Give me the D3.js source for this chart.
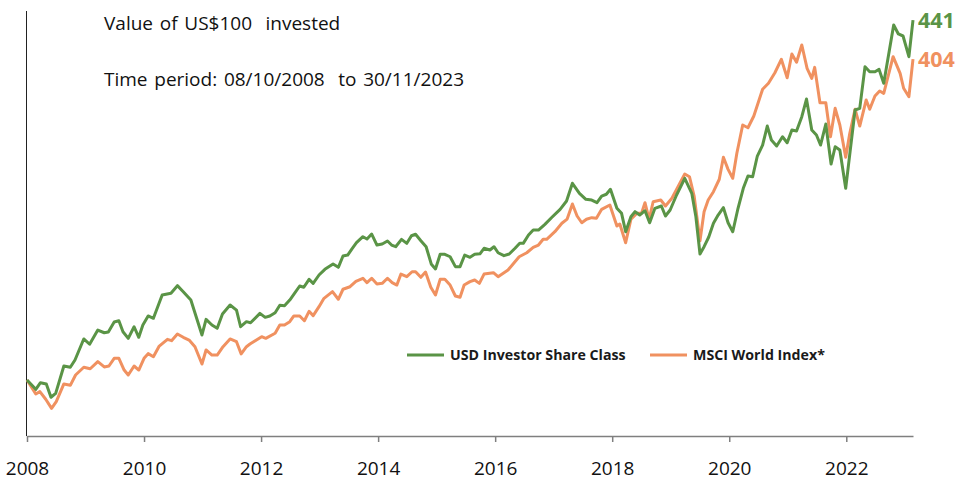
<!DOCTYPE html>
<html>
<head>
<meta charset="utf-8">
<script src="https://cdn.jsdelivr.net/npm/d3@7"></script>
<style>
  html, body { margin: 0; padding: 0; background: #fff; }
  svg { display: block; font-family: "Open Sans", "Noto Sans", sans-serif; }
</style>
</head>
<body>
<svg id="chart" width="967" height="480"></svg>
<script>
// ---- Data ----
const titleLines = ["Value of US$100  invested", "Time period: 08/10/2008  to 30/11/2023"];
const seriesNames = ["USD Investor Share Class", "MSCI World Index*"];
const tickYears = [2008, 2010, 2012, 2014, 2016, 2018, 2020, 2022];
const endLabels = ["441", "404"];

const fundDates = [2008.00,2008.15,2008.23,2008.33,2008.41,2008.49,2008.63,2008.74,2008.82,2008.97,2009.07,2009.21,2009.32,2009.39,2009.49,2009.57,2009.64,2009.73,2009.83,2009.91,2009.98,2010.07,2010.16,2010.31,2010.46,2010.57,2010.67,2010.80,2010.99,2011.06,2011.16,2011.25,2011.34,2011.47,2011.58,2011.65,2011.75,2011.82,2011.98,2012.07,2012.15,2012.24,2012.32,2012.40,2012.49,2012.58,2012.66,2012.73,2012.82,2012.89,2012.99,2013.09,2013.23,2013.32,2013.40,2013.48,2013.55,2013.63,2013.74,2013.81,2013.89,2013.98,2014.07,2014.16,2014.23,2014.30,2014.40,2014.49,2014.57,2014.64,2014.73,2014.82,2014.91,2014.98,2015.06,2015.14,2015.23,2015.32,2015.40,2015.48,2015.57,2015.65,2015.74,2015.81,2015.91,2015.98,2016.05,2016.15,2016.24,2016.34,2016.42,2016.48,2016.57,2016.65,2016.74,2016.85,2016.97,2017.11,2017.22,2017.32,2017.44,2017.55,2017.65,2017.74,2017.82,2017.90,2017.97,2018.08,2018.16,2018.23,2018.32,2018.39,2018.47,2018.56,2018.64,2018.73,2018.84,2018.91,2018.99,2019.10,2019.24,2019.36,2019.43,2019.50,2019.57,2019.65,2019.73,2019.81,2019.90,2019.98,2020.06,2020.15,2020.24,2020.32,2020.40,2020.48,2020.57,2020.65,2020.72,2020.81,2020.91,2020.99,2021.07,2021.15,2021.24,2021.32,2021.41,2021.49,2021.56,2021.65,2021.74,2021.81,2021.89,2021.99,2022.15,2022.23,2022.32,2022.40,2022.49,2022.56,2022.64,2022.81,2022.89,2022.97,2023.07,2023.14];
const fundValues = [100,91.2,97.5,96.3,83.7,87.4,113.3,112.1,119.0,138.9,133.9,147.4,144.8,145.5,155.0,156.2,145.8,139.5,150.5,140.5,152.1,160.7,158.5,180.6,182.2,189.4,183.7,175.8,142.7,157.5,152.1,149.0,162.6,171.1,166.3,150.5,155.3,154.3,163.2,159.4,160.7,163.8,170.8,170.4,175.8,182.7,189.1,187.9,195.4,191.6,199.5,204.9,209.9,206.8,217.5,218.4,224.1,230.1,235.8,233.6,238.3,227.9,228.9,231.7,227.9,226.3,233.3,229.5,236.7,238.1,232.0,226.3,209.6,205.2,219.1,219.1,216.8,207.4,207.4,218.4,216.3,219.1,219.6,224.8,223.2,226.3,220.6,217.8,219.4,224.8,229.5,229.5,237.4,242.1,242.1,247.5,254.2,261.7,269.6,286.4,276.9,271.2,270.5,268.0,274.3,276.0,280.7,262.7,257.9,240.5,254.7,259.5,256.3,260.4,249.0,262.7,264.9,255.4,261.1,275.3,291.1,276.9,254.7,219.4,226.3,235.5,248.5,256.3,263.3,249.0,240.5,262.7,281.6,293.3,292.6,312.2,322.6,340.6,327.4,321.7,330.5,324.8,336.9,335.9,349.5,366.2,336.9,332.1,322.6,342.5,304.6,321.0,317.9,281.6,355.8,357.4,396.8,392.1,392.1,394.3,381.1,436.3,427.8,425.9,406.3,441];

const indexDates = [2008.00,2008.15,2008.22,2008.32,2008.42,2008.50,2008.63,2008.74,2008.83,2008.97,2009.08,2009.21,2009.32,2009.40,2009.49,2009.57,2009.66,2009.73,2009.83,2009.91,2010.00,2010.07,2010.16,2010.26,2010.40,2010.47,2010.57,2010.67,2010.77,2010.87,2010.99,2011.06,2011.16,2011.25,2011.35,2011.47,2011.58,2011.66,2011.75,2011.81,2012.01,2012.08,2012.24,2012.32,2012.40,2012.49,2012.56,2012.66,2012.74,2012.82,2012.89,2012.99,2013.07,2013.22,2013.32,2013.40,2013.52,2013.62,2013.74,2013.81,2013.89,2013.98,2014.07,2014.16,2014.24,2014.32,2014.39,2014.49,2014.58,2014.64,2014.73,2014.81,2014.90,2014.98,2015.06,2015.14,2015.23,2015.32,2015.40,2015.47,2015.57,2015.65,2015.73,2015.81,2015.97,2016.05,2016.22,2016.41,2016.54,2016.65,2016.74,2016.82,2016.88,2017.02,2017.14,2017.23,2017.32,2017.40,2017.48,2017.56,2017.65,2017.73,2017.82,2017.96,2018.08,2018.13,2018.23,2018.32,2018.42,2018.50,2018.56,2018.63,2018.70,2018.83,2018.91,2019.02,2019.24,2019.32,2019.40,2019.50,2019.57,2019.64,2019.73,2019.83,2019.90,2019.98,2020.06,2020.13,2020.23,2020.32,2020.42,2020.57,2020.67,2020.78,2020.89,2020.99,2021.07,2021.15,2021.24,2021.33,2021.41,2021.46,2021.55,2021.65,2021.73,2021.81,2021.89,2021.99,2022.06,2022.15,2022.23,2022.34,2022.40,2022.49,2022.57,2022.64,2022.80,2022.92,2022.98,2023.07,2023.14];
const indexValues = [100,86.8,89.0,81.8,73.2,79.5,96.3,95.0,104.8,112.1,110.7,117.4,112.4,113.3,120.6,120.6,109.5,104.8,113.3,109.5,120.6,125.0,122.1,132.2,138.6,137.3,143.6,140.5,137.9,131.6,115.2,128.5,123.7,123.7,131.6,138.9,136.3,124.7,131.6,134.1,141.1,139.5,144.3,152.1,152.1,155.3,160.7,160.7,156.2,165.1,161.0,169.5,177.1,183.7,176.5,186.0,188.4,193.5,196.4,192.2,196.4,191.0,191.6,196.4,192.2,190.0,200.4,197.9,202.6,202.6,197.3,202.3,187.9,180.6,195.4,195.4,190.0,179.6,178.4,190.0,193.2,194.8,191.6,200.4,201.7,197.9,204.2,216.8,220.6,225.7,227.9,233.3,233.3,240.5,248.5,252.5,266.8,255.4,249.0,252.3,253.8,253.2,261.7,265.8,245.9,247.8,230.1,252.3,257.9,257.9,268.0,252.3,268.9,270.5,264.9,272.2,295.2,292.6,274.3,232.0,259.5,270.5,278.4,290.2,311.0,299.6,291.1,314.8,341.6,339.0,350.1,375.4,381.1,391.1,403.8,386.4,408.8,401.0,417.4,395.3,385.8,396.2,362.7,362.7,330.5,357.4,341.6,311.0,333.7,356.5,340.6,365.3,356.5,369.0,373.8,371.6,406.3,390.5,376.4,368.4,404];

// ---- Layout ----
const svg = d3.select("#chart");
const x = d3.scaleLinear().domain([2008, 2023.14]).range([27, 913]);
const y = d3.scaleLinear().domain([47, 460]).range([436, 0]);

const colors = ["#5a9446", "#f09160"];

// Title texts
svg.selectAll("text.title").data(titleLines).join("text")
  .attr("class", "title")
  .attr("x", 104)
  .attr("y", (d, i) => 30 + i * 56)
  .attr("font-size", 19)
  .attr("fill", "#111")
  .attr("word-spacing", 1.8)
  .style("white-space", "pre")
  .attr("xml:space", "preserve")
  .text(d => d);

// Left axis line
svg.append("line")
  .attr("x1", 26.5).attr("x2", 26.5)
  .attr("y1", 11).attr("y2", 436)
  .attr("stroke", "#222").attr("stroke-width", 1);

// Bottom axis
const xAxis = d3.axisBottom(x).tickValues(tickYears).tickFormat(d3.format("d")).tickSize(6).tickSizeOuter(0);
const gx = svg.append("g").attr("transform", "translate(0,436)").call(xAxis);
gx.select(".domain").attr("stroke", "#7f7f7f").attr("stroke-width", 1.5);
gx.selectAll(".tick line").attr("stroke", "#7f7f7f").attr("stroke-width", 1.5);
gx.selectAll(".tick text")
  .attr("font-family", "'Open Sans', 'Noto Sans', sans-serif")
  .attr("font-size", 19).attr("fill", "#111").attr("dy", 0).attr("y", 39);

// Lines
const line = d3.line().x(d => x(d[0])).y(d => y(d[1]));
const series = [
  d3.zip(fundDates, fundValues),
  d3.zip(indexDates, indexValues)
];
[1, 0].forEach(i => {
  svg.append("path")
    .datum(series[i])
    .attr("fill", "none")
    .attr("stroke", colors[i])
    .attr("stroke-width", 3)
    .attr("stroke-linejoin", "round")
    .attr("d", line);
});

// End labels
[0, 1].forEach(i => {
  const last = series[i][series[i].length - 1];
  svg.append("text")
    .attr("x", x(last[0]) + 5)
    .attr("y", y(last[1]) + 7.5)
    .attr("font-size", 21.5)
    .attr("font-weight", "bold")
    .attr("fill", colors[i])
    .text(endLabels[i]);
});

// Legend
const legendX = [407, 650];
seriesNames.forEach((name, i) => {
  const g = svg.append("g").attr("transform", `translate(${legendX[i]},355)`);
  g.append("line").attr("x1", 0).attr("x2", 37).attr("y1", 0).attr("y2", 0)
    .attr("stroke", colors[i]).attr("stroke-width", 3);
  g.append("text").attr("x", 43).attr("y", 5)
    .attr("font-size", 14.2).attr("font-weight", "bold").attr("fill", "#1a1a1a")
    .text(name);
});
</script>
</body>
</html>
